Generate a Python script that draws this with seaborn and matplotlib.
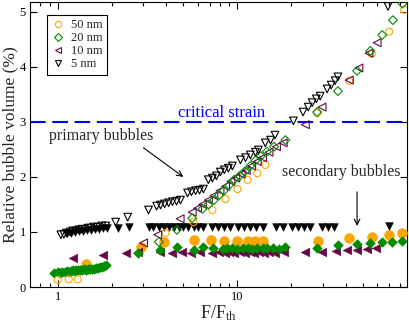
import matplotlib
matplotlib.use("Agg")
import matplotlib.pyplot as plt
import matplotlib.ticker as ticker
from matplotlib.lines import Line2D
import seaborn as sns

# ---- data (F/F_th, relative bubble volume in %) ----
# 50 nm, primary (open) and secondary (filled)
f50_open = [1.0, 1.15, 1.29, 3.98, 5.7, 7.26, 8.58, 10.0, 11.4, 12.9, 14.3, 27.8, 41.9, 56.0, 70.0, 85.0]
v50_open = [0.13, 0.14, 0.14, 0.98, 1.18, 1.40, 1.60, 1.78, 1.95, 2.07, 2.22, 3.16, 3.75, 4.24, 4.64, 5.04]
f50_fill = [1.43, 2.9, 3.9, 5.7, 7.1, 8.4, 10.0, 11.4, 12.6, 13.9, 28.2, 41.9, 56.0, 70.0, 83.0]
v50_fill = [0.42, 0.73, 0.82, 0.85, 0.85, 0.83, 0.83, 0.83, 0.83, 0.83, 0.84, 0.89, 0.91, 0.95, 0.98]

# 20 nm
f20_open = [3.65, 4.6, 5.6, 6.4, 6.9, 7.4, 7.9, 8.4, 9.0, 9.6, 10.3, 11.0, 11.8, 12.6, 13.5,
            14.6, 16.0, 18.5, 27.8, 36.3, 46.4, 55.0, 64.0, 73.5, 83.0]
v20_open = [0.82, 1.04, 1.25, 1.42, 1.50, 1.58, 1.67, 1.75, 1.85, 1.95, 2.02, 2.10, 2.20, 2.30, 2.38,
            2.46, 2.55, 2.67, 3.18, 3.56, 3.93, 4.29, 4.58, 4.85, 5.15]
f20_fill = [0.95, 1.0, 1.03, 1.06, 1.09, 1.12, 1.15, 1.18, 1.21, 1.24, 1.27, 1.30, 1.33, 1.36, 1.40,
            1.44, 1.48, 1.52, 1.56, 1.60, 1.64, 1.68, 1.72, 1.76, 1.80, 1.85,
            2.8, 3.7, 4.6, 5.7, 6.4, 7.3, 8.3, 8.8, 9.3, 10.0, 10.7, 11.4, 12.1, 12.9, 13.8,
            14.7, 15.8, 17.0, 18.5, 27.8, 36.3, 46.4, 55.0, 64.0, 73.0, 83.0]
v20_fill = [0.26, 0.27, 0.26, 0.28, 0.27, 0.29, 0.28, 0.29, 0.30, 0.29, 0.30, 0.31, 0.30, 0.31, 0.32,
            0.31, 0.32, 0.33, 0.32, 0.33, 0.34, 0.35, 0.36, 0.37, 0.38, 0.40,
            0.62, 0.67, 0.73, 0.67, 0.73, 0.71, 0.69, 0.70, 0.71, 0.69, 0.70, 0.71, 0.69, 0.70, 0.71,
            0.70, 0.71, 0.69, 0.72, 0.71, 0.76, 0.78, 0.80, 0.82, 0.82, 0.84]

# 10 nm
f10_open = [3.0, 3.6, 4.8, 5.6, 6.0, 6.4, 6.9, 7.4, 8.0, 8.6, 9.2, 9.8, 10.5, 11.2, 12.0,
            12.9, 13.8, 15.0, 16.5, 18.0, 23.9, 29.6, 42.0, 47.5, 54.0, 60.0]
v10_open = [0.80, 0.95, 1.24, 1.36, 1.43, 1.50, 1.58, 1.66, 1.75, 1.83, 1.92, 1.98, 2.05, 2.12, 2.20,
            2.28, 2.35, 2.45, 2.55, 2.62, 2.95, 3.27, 3.76, 3.98, 4.25, 4.44]
f10_fill = [1.21, 1.78, 2.4, 2.8, 3.7, 4.3, 4.9, 5.5, 6.2, 7.2, 7.9, 8.5, 9.0, 9.6, 10.3, 11.0,
            11.7, 12.4, 13.2, 14.0, 15.0, 16.3, 18.2, 23.9, 29.6, 35.5, 40.7, 46.4, 52.6, 59.0]
v10_fill = [0.53, 0.58, 0.62, 0.63, 0.63, 0.62, 0.63, 0.62, 0.63, 0.62, 0.63, 0.62, 0.63, 0.62, 0.63, 0.62,
            0.63, 0.62, 0.63, 0.62, 0.63, 0.62, 0.63, 0.64, 0.64, 0.66, 0.67, 0.67, 0.69, 0.71]

# 5 nm
f5_open = [1.04, 1.08, 1.12, 1.17, 1.21, 1.26, 1.31, 1.36, 1.41, 1.47, 1.52, 1.58, 1.67, 1.76, 1.85,
           2.10, 2.45, 3.20, 3.55, 3.73, 3.93, 4.14, 4.35, 4.58, 4.82, 5.28, 5.55, 5.85, 6.15, 6.47,
           6.89, 7.26, 7.64, 8.04, 8.46, 8.91, 9.38, 10.4, 11.1, 11.8, 12.6, 13.1, 14.3, 15.3, 16.2,
           20.5, 23.2, 24.8, 26.1, 27.5, 28.9, 31.6, 33.3, 35.0, 36.3, 69.0]
v5_open = [0.95, 0.96, 0.98, 1.00, 1.02, 1.02, 1.04, 1.05, 1.05, 1.07, 1.07, 1.09, 1.09, 1.11, 1.11,
           1.18, 1.27, 1.40, 1.47, 1.49, 1.51, 1.53, 1.55, 1.56, 1.58, 1.71, 1.73, 1.75, 1.76, 1.78,
           1.95, 1.98, 2.02, 2.09, 2.13, 2.16, 2.20, 2.31, 2.35, 2.40, 2.45, 2.49, 2.62, 2.67, 2.76,
           3.02, 3.18, 3.27, 3.35, 3.42, 3.47, 3.60, 3.67, 3.75, 3.82, 5.10]
f5_fill = [1.12, 1.18, 1.24, 1.31, 1.38, 1.45, 1.53, 1.61, 1.69, 1.78, 1.87, 2.15, 2.48,
           3.20, 3.41, 3.64, 3.88, 4.14, 4.41, 4.70, 5.01, 5.34, 5.70, 6.07, 6.47,
           7.26, 7.83, 8.46, 9.14, 10.1, 10.9, 11.8, 12.7, 13.8, 16.4, 18.0,
           20.2, 21.8, 23.5, 25.4, 29.6, 32.0, 34.6, 70.0]
v5_fill = [0.98, 0.99, 1.00, 1.01, 1.02, 1.03, 1.04, 1.05, 1.06, 1.07, 1.08, 1.07, 1.09,
           1.09, 1.09, 1.09, 1.09, 1.09, 1.09, 1.09, 1.09, 1.09, 1.09, 1.09, 1.09,
           1.09, 1.09, 1.09, 1.09, 1.09, 1.09, 1.09, 1.09, 1.09, 1.09, 1.09,
           1.09, 1.09, 1.09, 1.09, 1.09, 1.09, 1.09, 1.10]

legend_labels = ["50 nm", "20 nm", "10 nm", "5 nm"]
critical_strain = 3.0

ORANGE = "#ffa500"
GREEN = "#008b00"
MAROON = "#670748"
BLACK = "#000000"

sns.set_style("ticks")
plt.rcParams["font.family"] = ["Liberation Serif", "DejaVu Serif"]
plt.rcParams["mathtext.fontset"] = "custom"
plt.rcParams["mathtext.rm"] = "Liberation Serif"
plt.rcParams["mathtext.it"] = "Liberation Serif:italic"

fig = plt.figure(figsize=(4.09, 3.23), dpi=100)
ax = fig.add_axes([30 / 409, 36 / 323, 377 / 409, 285 / 323])


def draw(x, y, marker, color, size, filled):
    if filled:
        sns.scatterplot(x=x, y=y, ax=ax, marker=marker, s=size, color=color,
                        edgecolor=color, linewidth=0.4, legend=False, zorder=3)
    else:
        sns.scatterplot(x=x, y=y, ax=ax, marker=marker, s=size, facecolor="none",
                        edgecolor=color, linewidth=0.8, legend=False, zorder=4)


# secondary bubbles (filled)
draw(f50_fill, v50_fill, "o", ORANGE, 50, True)
draw(f10_fill, v10_fill, "<", MAROON, 38, True)
draw(f20_fill, v20_fill, "D", GREEN, 24, True)
draw(f5_fill, v5_fill, "v", BLACK, 30, True)

# primary bubbles (open)
draw(f50_open, v50_open, "o", ORANGE, 26, False)
draw(f10_open, v10_open, "<", MAROON, 32, False)
draw(f20_open, v20_open, "D", GREEN, 20, False)
draw(f5_open, v5_open, "v", BLACK, 30, False)

# critical strain line
ax.axhline(critical_strain, color="blue", lw=1.5, dashes=(7.5, 3.2), zorder=2)
ax.text(4.64, 3.09, "critical strain", color="blue", fontsize=12, ha="left", va="baseline")

# annotations
ax.text(0.89, 2.67, "primary bubbles", fontsize=11.5, ha="left", va="baseline")
ax.annotate("", xy=(5.0, 2.0), xytext=(3.0, 2.53),
            arrowprops=dict(arrowstyle="->", color="k", lw=0.8, shrinkA=0, shrinkB=0))
ax.text(17.8, 2.02, "secondary bubbles", fontsize=11.5, ha="left", va="baseline")
ax.annotate("", xy=(46.4, 1.11), xytext=(46.4, 1.73),
            arrowprops=dict(arrowstyle="->", color="k", lw=0.8, shrinkA=0, shrinkB=0))

# axes
ax.set_xscale("log")
ax.set_xlim(0.7, 88)
ax.set_ylim(0, 5.18)
ax.xaxis.set_major_locator(ticker.LogLocator(base=10, numticks=10))
ax.xaxis.set_minor_locator(ticker.LogLocator(base=10, subs=range(2, 10), numticks=20))
ax.xaxis.set_minor_formatter(ticker.NullFormatter())
ax.xaxis.set_major_formatter(ticker.FuncFormatter(lambda v, _: f"{v:g}"))
ax.yaxis.set_major_locator(ticker.MultipleLocator(1))
ax.yaxis.set_minor_locator(ticker.NullLocator())

ax.tick_params(which="both", direction="in", top=True, right=True, width=0.8,
               color="k", labelcolor="k", labelsize=9, pad=3)
ax.tick_params(which="major", length=5)
ax.tick_params(which="minor", length=3)
for sp in ax.spines.values():
    sp.set_linewidth(0.8)
    sp.set_color("k")

ax.set_xlabel("F/F$_{\\mathrm{th}}$", fontsize=13, labelpad=0)
ax.set_ylabel("Relative bubble volume (%)", fontsize=12.5, labelpad=1)

# legend with open markers
handles = [
    Line2D([], [], ls="none", marker="o", mfc="none", mec=ORANGE, ms=4.5, mew=0.8),
    Line2D([], [], ls="none", marker="D", mfc="none", mec=GREEN, ms=3.6, mew=0.8),
    Line2D([], [], ls="none", marker="<", mfc="none", mec=MAROON, ms=4.5, mew=0.8),
    Line2D([], [], ls="none", marker="v", mfc="none", mec=BLACK, ms=4.5, mew=0.8),
]
leg = ax.legend(handles, legend_labels, loc="upper left", bbox_to_anchor=(0.045, 0.954),
                frameon=True, fancybox=False, edgecolor="k", framealpha=1, fontsize=9,
                handlelength=1.0, handletextpad=0.6, borderpad=0.35, labelspacing=0.08,
                borderaxespad=0)
leg.get_frame().set_linewidth(0.8)

fig.savefig("out.png", dpi=100)
plt.close(fig)
